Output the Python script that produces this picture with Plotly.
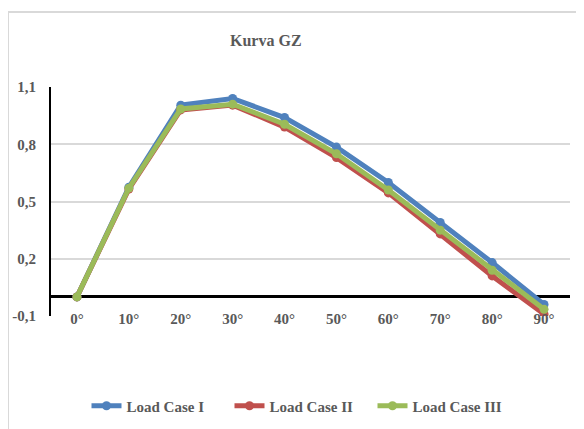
import plotly.graph_objects as go

categories = ["0°", "10°", "20°", "30°", "40°", "50°", "60°", "70°", "80°", "90°"]
load_case_1 = [0.0, 0.575, 1.005, 1.04, 0.94, 0.785, 0.60, 0.39, 0.18, -0.04]
load_case_2 = [0.0, 0.565, 0.98, 1.005, 0.89, 0.73, 0.545, 0.33, 0.11, -0.09]
load_case_3 = [0.0, 0.57, 0.985, 1.01, 0.905, 0.75, 0.56, 0.35, 0.14, -0.065]
y_ticks = [-0.1, 0.2, 0.5, 0.8, 1.1]
y_tick_labels = ["-0,1", "0,2", "0,5", "0,8", "1,1"]

series = [
    ("Load Case I", load_case_1, "#4F81BD"),
    ("Load Case II", load_case_2, "#C0504D"),
    ("Load Case III", load_case_3, "#9BBB59"),
]

FONT = "'Liberation Serif', 'DejaVu Serif', serif"
TXT = "#595959"

# page body has an 8px default margin; figure placed at (8, 8)
OFF = 8
L, T, R, B = 51 - OFF, 87 - OFF, 14, 113
W, H = 584 - OFF, 429 - OFF
PW, PH = W - L - R, H - T - B

fig = go.Figure()
for name, vals, col in series:
    fig.add_trace(go.Scatter(
        x=categories, y=vals, name=name, mode="lines+markers",
        line=dict(color=col, width=5),
        marker=dict(color=col, size=9, symbol="circle"),
    ))

fig.update_layout(
    width=W, height=H,
    margin=dict(l=L, r=R, t=T, b=B, autoexpand=False),
    paper_bgcolor="white", plot_bgcolor="white",
    font=dict(family=FONT, color=TXT, size=15),
    showlegend=True,
    legend=dict(
        orientation="h", x=(301 - 51) / PW, xanchor="center",
        y=-(406 - 316) / PH, yanchor="middle",
        font=dict(family=FONT, size=15, color=TXT, weight="bold"),
        itemwidth=30, tracegroupgap=0, entrywidth=98, entrywidthmode="pixels",
    ),
    annotations=[dict(
        text="<b>Kurva GZ</b>", xref="paper", yref="paper",
        x=(266 - 51) / PW, y=1 + (87 - 40) / PH, xanchor="center", yanchor="middle",
        showarrow=False, font=dict(family=FONT, size=16, color=TXT),
    )],
    shapes=[dict(
        type="rect", xref="paper", yref="paper",
        x0=(8 - 51) / PW, x1=1.06, y0=-0.55, y1=1 + (87 - 12) / PH,
        line=dict(color="#d9d9d9", width=2), fillcolor="rgba(0,0,0,0)", layer="below",
    )],
)

fig.update_xaxes(
    type="category", range=[-0.5, 9.5], showgrid=False, showline=False,
    zeroline=False, ticks="", ticklabelstandoff=-8, automargin=False,
    tickfont=dict(family=FONT, size=15, color=TXT, weight="bold"),
)
fig.update_yaxes(
    range=[-0.1, 1.1], tickvals=y_ticks, ticktext=y_tick_labels,
    showgrid=True, gridcolor="#d9d9d9", gridwidth=1.5,
    showline=True, linecolor="black", linewidth=2,
    zeroline=True, zerolinecolor="black", zerolinewidth=2.5,
    ticks="", ticklabelstandoff=10, automargin=False,
    tickfont=dict(family=FONT, size=15, color=TXT, weight="bold"),
)

fig.write_html("out.html")
